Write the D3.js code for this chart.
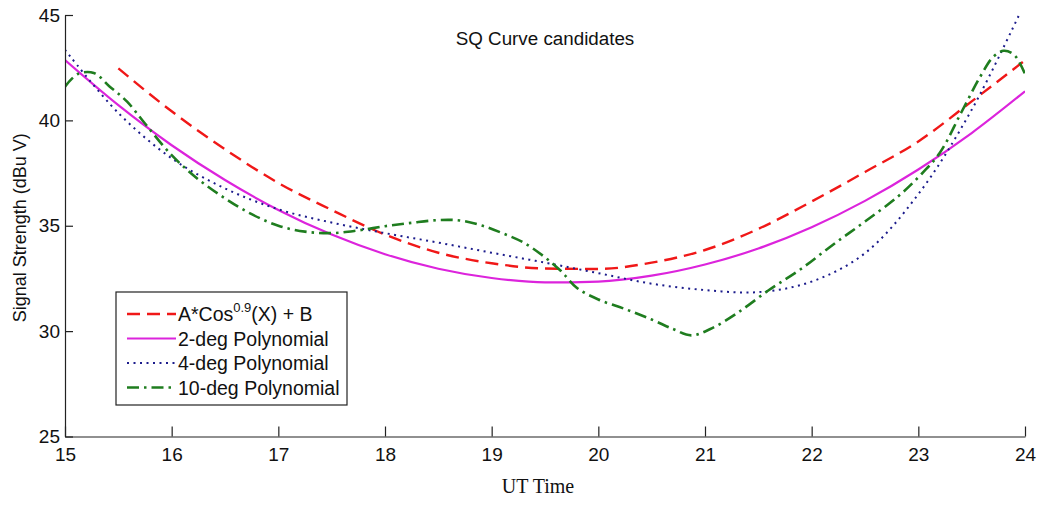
<!DOCTYPE html>
<html>
<head>
<meta charset="utf-8">
<script src="https://cdn.jsdelivr.net/npm/d3@7"></script>
<style>
  html, body { margin: 0; padding: 0; background: #ffffff; }
  svg { display: block; }
</style>
</head>
<body>
<svg id="chart" width="1039" height="510"></svg>
<script>
// ---- data ----
const title = "SQ Curve candidates";
const xLabel = "UT Time";
const yLabel = "Signal Strength (dBu V)";
const xTicks = [15, 16, 17, 18, 19, 20, 21, 22, 23, 24];
const yTicks = [25, 30, 35, 40, 45];

const cosX = [15.5, 16, 16.5, 17, 17.5, 18, 18.5, 19, 19.5, 20, 20.5, 21, 21.5, 22, 22.5, 23, 23.5, 24];
const cosY = [42.47, 40.43, 38.63, 37.03, 35.75, 34.58, 33.72, 33.22, 32.97, 32.95, 33.25, 33.85, 34.85, 36.15, 37.55, 39.0, 40.9, 42.85];

const poly2X = [15, 15.5, 16, 16.5, 17, 17.5, 18, 18.5, 19, 19.5, 20, 20.5, 21, 21.5, 22, 22.5, 23, 23.5, 24];
const poly2Y = [42.86, 40.72, 38.82, 37.17, 35.75, 34.58, 33.65, 32.96, 32.52, 32.31, 32.35, 32.63, 33.16, 33.92, 34.93, 36.18, 37.67, 39.4, 41.38];

const poly4X = [15, 15.5, 16, 16.5, 17, 17.5, 18, 18.5, 19, 19.5, 20, 20.5, 21, 21.5, 22, 22.5, 23, 23.5, 24];
const poly4Y = [43.35, 40.35, 38.2, 36.77, 35.78, 35.15, 34.65, 34.2, 33.72, 33.25, 32.75, 32.25, 31.95, 31.85, 32.35, 33.7, 36.5, 40.5, 45.6];

const poly10X = [15.0, 15.12, 15.27, 15.42, 15.58, 15.75, 16.0, 16.25, 16.5, 16.75, 17.0, 17.25, 17.5, 17.75, 18.0, 18.25, 18.5, 18.7, 18.9, 19.1, 19.3, 19.5, 19.65, 19.8, 20.0, 20.25, 20.5, 20.7, 20.87, 21.05, 21.3, 21.6, 21.9, 22.2, 22.5, 22.8, 23.0, 23.2, 23.4, 23.58, 23.7, 23.8, 23.9, 24.0];
const poly10Y = [41.6, 42.2, 42.25, 41.6, 40.9, 39.85, 38.35, 37.2, 36.3, 35.55, 35.0, 34.72, 34.65, 34.78, 34.98, 35.14, 35.27, 35.25, 35.02, 34.65, 34.2, 33.5, 32.85, 32.05, 31.5, 31.05, 30.55, 30.1, 29.8, 30.1, 30.85, 31.95, 32.95, 34.1, 35.2, 36.35, 37.3, 38.45, 40.35, 42.07, 43.0, 43.3, 43.1, 42.2];

const seriesNames = ["A*Cos", "2-deg Polynomial", "4-deg Polynomial", "10-deg Polynomial"];

// ---- layout ----
const SANS = "'Liberation Sans', Arial, sans-serif";
const SERIF = "'Liberation Serif', 'Times New Roman', serif";
const L = 65, R = 1025, T = 15, B = 436.5;
const svg = d3.select("#chart");
const x = d3.scaleLinear().domain([15, 24]).range([L, R]);
const y = d3.scaleLinear().domain([25, 45]).range([B, T]);

svg.append("defs").append("clipPath").attr("id", "clip")
  .append("rect").attr("x", L).attr("y", T).attr("width", R - L).attr("height", B - T);

const series = [
  { xs: cosX,   ys: cosY,   color: "#f01818", width: 2.4, dash: "13,7",     curve: d3.curveMonotoneX },
  { xs: poly2X, ys: poly2Y, color: "#dc24dc", width: 2.2, dash: null,       curve: d3.curveMonotoneX },
  { xs: poly4X, ys: poly4Y, color: "#1c1c8c", width: 2.0, dash: "2,4.5",    curve: d3.curveCatmullRom },
  { xs: poly10X, ys: poly10Y, color: "#1f7d1f", width: 2.6, dash: "12,5,2.5,5", curve: d3.curveCatmullRom }
];

const g = svg.append("g").attr("clip-path", "url(#clip)");
series.forEach(s => {
  const pts = s.xs.map((v, i) => [v, s.ys[i]]);
  const line = d3.line().x(d => x(d[0])).y(d => y(d[1])).curve(s.curve);
  g.append("path").datum(pts)
    .attr("d", line)
    .attr("fill", "none")
    .attr("stroke", s.color)
    .attr("stroke-width", s.width)
    .attr("stroke-dasharray", s.dash)
    .attr("stroke-linecap", "butt");
});

// ---- axes ----
const xAxis = d3.axisBottom(x).tickValues(xTicks).tickSizeInner(-10).tickSizeOuter(0).tickPadding(11).tickFormat(d3.format("d"));
const yAxis = d3.axisLeft(y).tickValues(yTicks).tickSizeInner(-8).tickSizeOuter(0).tickPadding(5).tickFormat(d3.format("d"));

const gx = svg.append("g").attr("transform", `translate(0,${B})`).call(xAxis);
const gy = svg.append("g").attr("transform", `translate(${L},0)`).call(yAxis);
[gx, gy].forEach(ax => {
  ax.attr("font-family", null).attr("font-size", null);
  ax.selectAll("path, line").attr("stroke", "#222").attr("stroke-width", 1.2);
  ax.selectAll("text").style("font-family", SANS).style("font-size", "19px").attr("fill", "#111");
});
gx.selectAll("text").attr("dy", "0.71em");

// ---- title & labels ----
svg.append("text").attr("x", (L + R) / 2).attr("y", 45).attr("text-anchor", "middle")
  .style("font-family", SANS).style("font-size", "18.8px").attr("fill", "#111").text(title);
svg.append("text").attr("x", 538).attr("y", 493).attr("text-anchor", "middle")
  .style("font-family", SERIF).style("font-size", "20px").attr("fill", "#111").text(xLabel);
svg.append("text").attr("transform", `translate(26,${(T + B) / 2 + 2}) rotate(-90)`).attr("text-anchor", "middle")
  .style("font-family", SANS).style("font-size", "18px").attr("fill", "#111").text(yLabel);

// ---- legend ----
const lg = svg.append("g");
lg.append("rect").attr("x", 116).attr("y", 292).attr("width", 231).attr("height", 113)
  .attr("fill", "#fff").attr("stroke", "#222").attr("stroke-width", 1.2);
const rowY = [314, 338.5, 363, 387.5];
series.forEach((s, i) => {
  lg.append("line").attr("x1", 127).attr("x2", 176).attr("y1", rowY[i]).attr("y2", rowY[i])
    .attr("stroke", s.color).attr("stroke-width", s.width).attr("stroke-dasharray", s.dash);
  const t = lg.append("text").attr("x", 178).attr("y", rowY[i] + 7)
    .style("font-family", SANS).style("font-size", "19.5px").attr("fill", "#111");
  if (i === 0) {
    t.append("tspan").text("A*Cos");
    t.append("tspan").style("font-size", "13px").attr("dy", -9).text("0.9");
    t.append("tspan").attr("dy", 9).text("(X) + B");
  } else {
    t.text(seriesNames[i]);
  }
});
</script>
</body>
</html>
